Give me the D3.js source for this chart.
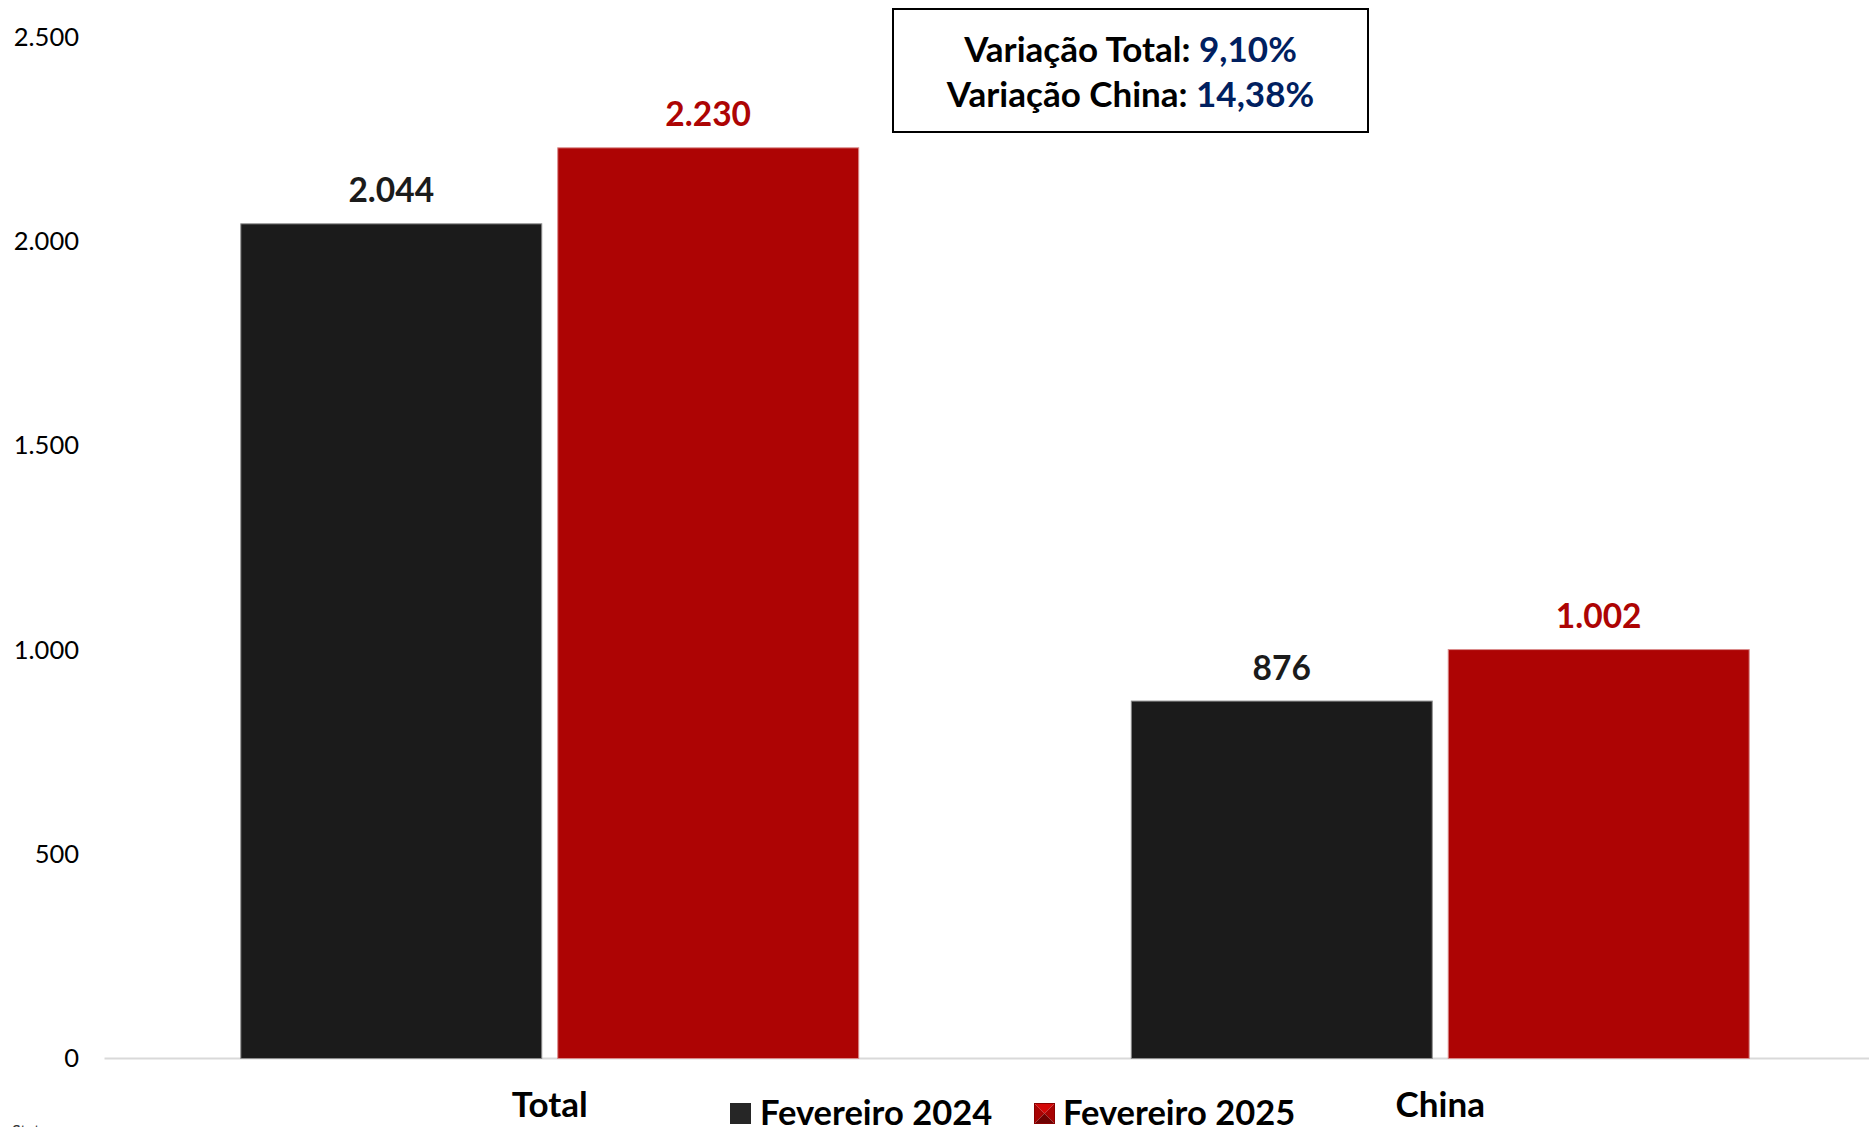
<!DOCTYPE html>
<html>
<head>
<meta charset="utf-8">
<script src="https://cdn.jsdelivr.net/npm/d3@7"></script>
<style>
  html, body { margin: 0; padding: 0; background: #ffffff; overflow: hidden; }
  svg { display: block; }
  text { font-family: Lato, "Open Sans", sans-serif; }
</style>
</head>
<body>
<svg id="chart" width="1869" height="1127"></svg>
<script>
// ---- data ----
const categories = ["Total", "China"];
const seriesNames = ["Fevereiro 2024", "Fevereiro 2025"];
const values2024 = [2044, 876];
const values2025 = [2230, 1002];
const yTicks = [0, 500, 1000, 1500, 2000, 2500];
const variationLabels = ["Variação Total: ", "Variação China: "];
const variationValues = ["9,10%", "14,38%"];
const footnote = "Stat";

// ---- styling ----
const colors = { "Fevereiro 2024": "#1b1b1b", "Fevereiro 2025": "#ad0404" };
const strokes = { "Fevereiro 2024": "#8c8c8c", "Fevereiro 2025": "#d98a8a" };
const labelColors = { "Fevereiro 2024": "#1b1b1b", "Fevereiro 2025": "#ad0404" };
const blue = "#002060";

const loc = d3.formatLocale({ decimal: ",", thousands: ".", grouping: [3], currency: ["R$", ""] });
const fmt = loc.format(",d");

const svg = d3.select("#chart");

const y = d3.scaleLinear().domain([0, 2500]).range([1058.5, 37]);
const x0 = d3.scaleBand().domain(categories).range([104.5, 1885.5])
  .paddingInner(0.305).paddingOuter(0.1525);
const x1 = d3.scaleBand().domain(seriesNames).range([0, x0.bandwidth()])
  .paddingInner(0.0473).paddingOuter(0);

const rows = categories.map((c, i) => ({
  cat: c,
  vals: [
    { s: seriesNames[0], v: values2024[i] },
    { s: seriesNames[1], v: values2025[i] }
  ]
}));

// y axis labels
const yAxis = d3.axisLeft(y).tickValues(yTicks).tickFormat(fmt).tickSize(0).tickPadding(0);
const gy = svg.append("g").attr("transform", "translate(79,0)").call(yAxis);
gy.select(".domain").remove();
gy.selectAll("text").attr("font-size", 25.5).attr("fill", "#000")
  .style("font-family", "Lato, 'Open Sans', sans-serif");

// baseline
svg.append("line").attr("x1", 104.5).attr("x2", 1995).attr("y1", y(0)).attr("y2", y(0))
  .attr("stroke", "#d9d9d9").attr("stroke-width", 2);

// bars
const groups = svg.append("g").selectAll("g").data(rows).join("g")
  .attr("transform", d => `translate(${x0(d.cat)},0)`);

groups.selectAll("rect").data(d => d.vals).join("rect")
  .attr("x", d => x1(d.s) + 0.5)
  .attr("width", x1.bandwidth() - 1)
  .attr("y", d => y(d.v) + 0.5)
  .attr("height", d => y(0) - y(d.v) - 0.5)
  .attr("fill", d => colors[d.s])
  .attr("stroke", d => strokes[d.s])
  .attr("stroke-width", 1);

groups.selectAll("text.val").data(d => d.vals).join("text")
  .attr("class", "val")
  .attr("x", d => x1(d.s) + x1.bandwidth() / 2)
  .attr("y", d => y(d.v) - 21)
  .attr("text-anchor", "middle")
  .attr("font-size", 33.5)
  .attr("font-weight", 700)
  .attr("fill", d => labelColors[d.s])
  .text(d => fmt(d.v));

// category labels
const xAxis = d3.axisBottom(x0).tickSize(0).tickPadding(0);
const gx = svg.append("g").attr("transform", "translate(0,1117)").call(xAxis);
gx.select(".domain").remove();
gx.selectAll("text").attr("font-size", 35).attr("font-weight", 700).attr("fill", "#000")
  .attr("dy", 0).attr("y", 0)
  .style("font-family", "Lato, 'Open Sans', sans-serif");

// variation box
svg.append("rect").attr("x", 893).attr("y", 9).attr("width", 475).attr("height", 123)
  .attr("fill", "#fff").attr("stroke", "#000").attr("stroke-width", 2);
const boxText = svg.append("g");
variationLabels.forEach((lab, i) => {
  const t = boxText.append("text")
    .attr("x", 1130.5).attr("y", 62 + i * 45)
    .attr("text-anchor", "middle")
    .attr("font-size", 35).attr("font-weight", 700);
  t.append("tspan").attr("fill", "#000").text(lab);
  t.append("tspan").attr("fill", blue).text(variationValues[i]);
});

// legend
const legend = svg.append("g");
const legendItems = [
  { s: seriesNames[0], sx: 730, tx: 760 },
  { s: seriesNames[1], sx: 1034, tx: 1063 }
];
legendItems.forEach((it, i) => {
  const sz = 21, sy = 1103;
  if (i === 0) {
    legend.append("rect").attr("x", it.sx).attr("y", sy).attr("width", sz).attr("height", sz)
      .attr("fill", "#262626");
  } else {
    const cx = it.sx + sz / 2, cy = sy + sz / 2;
    const X0 = it.sx, X1 = it.sx + sz, Y0 = sy, Y1 = sy + sz;
    const tri = (pts, c) => legend.append("polygon").attr("points", pts.map(p => p.join(",")).join(" ")).attr("fill", c);
    tri([[X0, Y0], [X1, Y0], [cx, cy]], "#d40808");
    tri([[X0, Y0], [X0, Y1], [cx, cy]], "#a80303");
    tri([[X1, Y0], [X1, Y1], [cx, cy]], "#a80303");
    tri([[X0, Y1], [X1, Y1], [cx, cy]], "#6e0202");
    legend.append("rect").attr("x", X0 + 0.5).attr("y", Y0 + 0.5).attr("width", sz - 1).attr("height", sz - 1)
      .attr("fill", "none").attr("stroke", "#8a0000").attr("stroke-width", 1);
  }
  legend.append("text").attr("x", it.tx).attr("y", 1125)
    .attr("font-size", 34.5).attr("font-weight", 700).attr("fill", "#000")
    .text(it.s);
});

// cut-off footnote
svg.append("text").attr("x", 12).attr("y", 1136).attr("font-size", 16).attr("fill", "#333").text(footnote);
</script>
</body>
</html>
